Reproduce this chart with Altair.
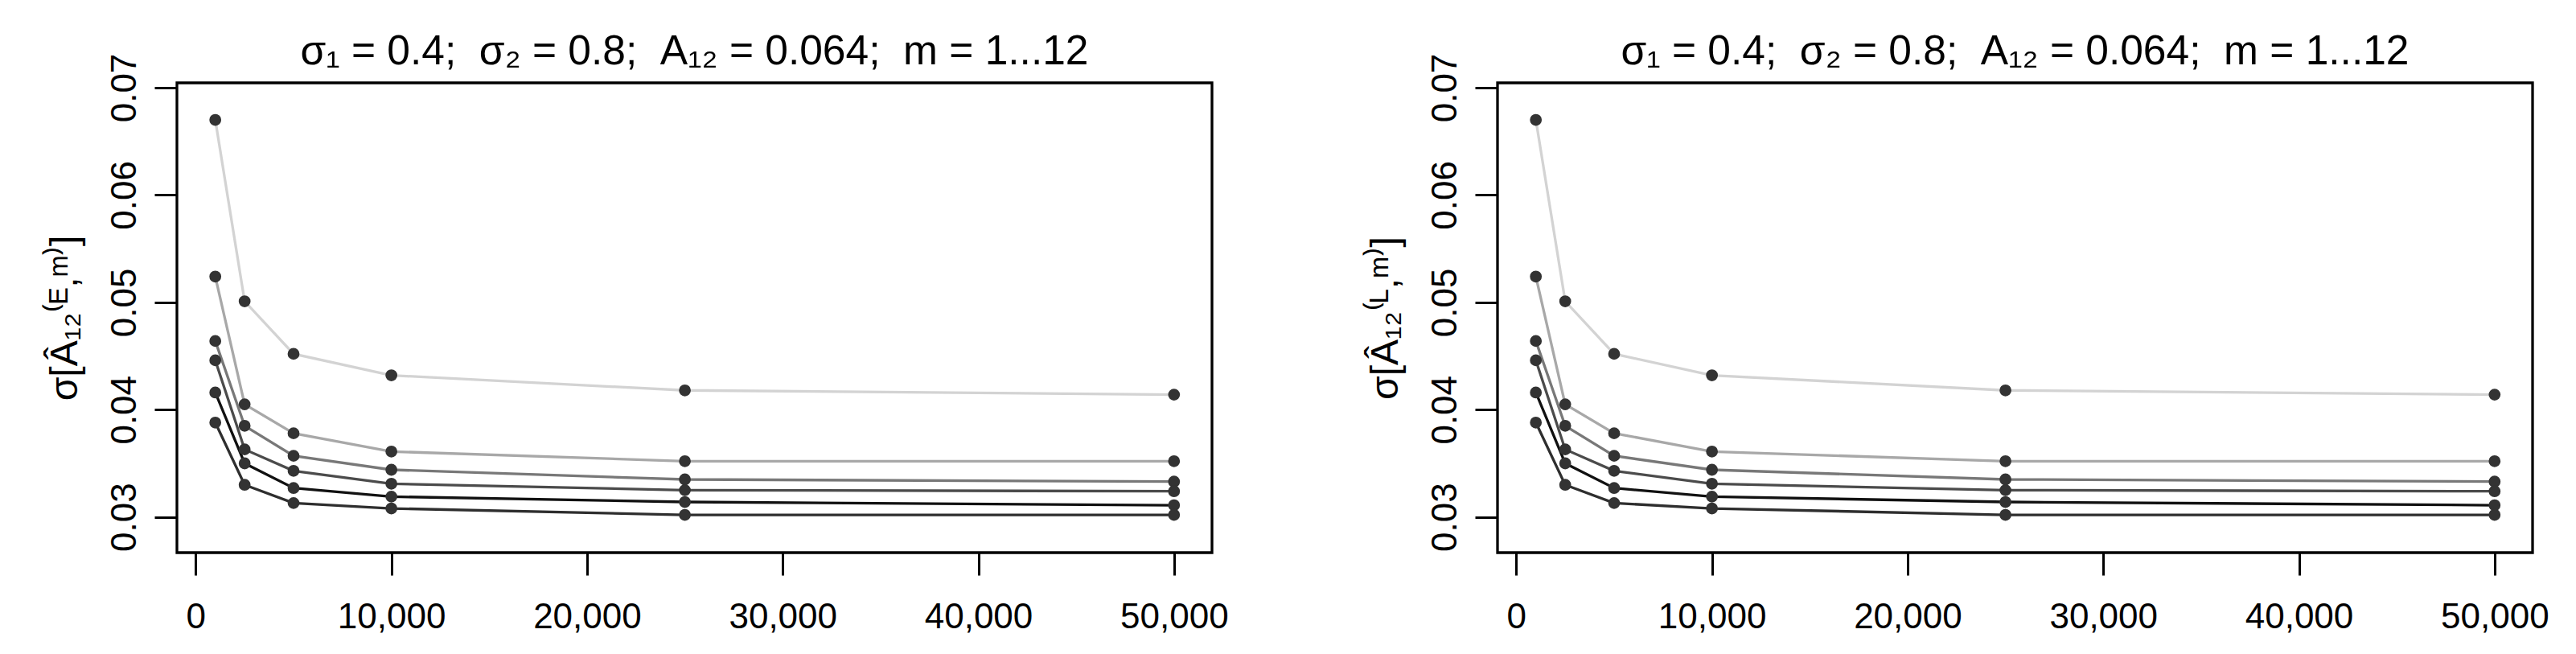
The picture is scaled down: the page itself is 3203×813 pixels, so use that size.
import altair as alt
import pandas as pd

# sample sizes (x axis)
n_values = [1000, 2500, 5000, 10000, 25000, 50000]

# sigma of the estimator, one list per curve (light -> dark)
curve_1 = [0.0670, 0.0501, 0.0452, 0.0432, 0.0418, 0.0414]
curve_2 = [0.0524, 0.0405, 0.0378, 0.0361, 0.0352, 0.0352]
curve_3 = [0.0464, 0.0385, 0.0357, 0.0344, 0.0335, 0.0333]
curve_4 = [0.0446, 0.0363, 0.0343, 0.0331, 0.0325, 0.0324]
curve_5 = [0.0416, 0.0350, 0.0327, 0.0319, 0.0314, 0.0311]
curve_6 = [0.0388, 0.0330, 0.0313, 0.0308, 0.0302, 0.0302]

curve_names = ["c1", "c2", "c3", "c4", "c5", "c6"]
curve_colors = ["#d3d3d3", "#a8a8a8", "#787878", "#4b4b4b", "#111111", "#2e2e2e"]

x_ticks = [0, 10000, 20000, 30000, 40000, 50000]
y_ticks = [0.03, 0.04, 0.05, 0.06, 0.07]

NB = "\u00a0"
title_text = f"σ₁ = 0.4;{NB}{NB}σ₂ = 0.8;{NB}{NB}A₁₂ = 0.064;{NB}{NB}m = 1...12"
ytitle_E = "σ[Â₁₂⁽ᴱ,ᵐ⁾]"
ytitle_L = "σ[Â₁₂⁽ᴸ,ᵐ⁾]"

FONT = "Liberation Sans"

rows = []
for name, vals in zip(curve_names, [curve_1, curve_2, curve_3, curve_4, curve_5, curve_6]):
    for n, v in zip(n_values, vals):
        rows.append({"n": n, "v": v, "curve": name})
df = pd.DataFrame(rows)


def panel(ytitle):
    base = alt.Chart(df)
    x = alt.X("n:Q",
              scale=alt.Scale(domain=[-960, 51940], nice=False, zero=False),
              axis=alt.Axis(values=x_ticks, format=",d", title=None,
                            labelPadding=30))
    y = alt.Y("v:Q",
              scale=alt.Scale(domain=[0.02668, 0.07045], nice=False, zero=False),
              axis=alt.Axis(values=y_ticks, format=".2f", title=ytitle,
                            labelAngle=-90, labelAlign="center",
                            labelBaseline="bottom", labelPadding=15,
                            titlePadding=28, titleFontSize=48))
    lines = base.mark_line(strokeWidth=3.3).encode(
        x=x, y=y,
        color=alt.Color("curve:N",
                        scale=alt.Scale(domain=curve_names, range=curve_colors),
                        legend=None),
    )
    pts = base.mark_circle(size=218, color="#333333", opacity=1).encode(x=x, y=y)
    return alt.layer(lines, pts).properties(
        width=1287, height=584,
        title=alt.TitleParams(title_text, fontSize=51.5, font=FONT,
                              fontWeight="normal", color="black",
                              offset=-24, frame="group"),
    )


chart = alt.hconcat(panel(ytitle_E), panel(ytitle_L), spacing=355, bounds="flush").properties(
    padding={"left": 47, "top": 29, "right": 5, "bottom": 5}
).configure_view(
    stroke="black", strokeWidth=3.3
).configure_axis(
    domain=False, grid=False, ticks=True, tickColor="black", tickWidth=3,
    tickSize=28, labelFont=FONT, labelFontSize=44, labelColor="black",
    titleFont=FONT, titleFontWeight="normal", titleColor="black",
)

chart.save("out.html", embed_options={"renderer": "svg", "actions": False})
